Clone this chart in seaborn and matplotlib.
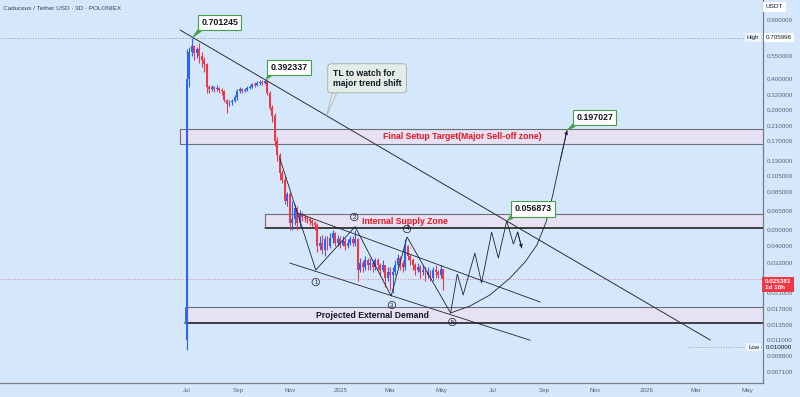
import matplotlib
matplotlib.use("Agg")
import matplotlib.pyplot as plt
import matplotlib.transforms as mtransforms
import matplotlib.dates as mdates
from matplotlib.ticker import NullLocator
import numpy as np
import pandas as pd
import seaborn as sns

# ---------------- data ----------------
candle_start = "2024-07-01"
candle_days = 3
first_open = 0.011
closes = [0.40, 0.58, 0.63, 0.57, 0.60, 0.55, 0.52, 0.49, 0.36, 0.35,
          0.36, 0.35, 0.355, 0.345, 0.34, 0.30, 0.285, 0.29, 0.295, 0.31,
          0.34, 0.35, 0.34, 0.345, 0.355, 0.36, 0.375, 0.37, 0.38, 0.385,
          0.38, 0.39, 0.33, 0.27, 0.24, 0.17, 0.14, 0.11, 0.10, 0.075,
          0.082, 0.055, 0.058, 0.068, 0.055, 0.062, 0.060, 0.059, 0.058, 0.057,
          0.055, 0.054, 0.040, 0.042, 0.038, 0.044, 0.040, 0.045, 0.048, 0.042,
          0.044, 0.041, 0.043, 0.040, 0.042, 0.044, 0.042, 0.044, 0.029, 0.032,
          0.030, 0.033, 0.031, 0.032, 0.030, 0.033, 0.031, 0.029, 0.031, 0.026,
          0.028, 0.027, 0.028, 0.031, 0.034, 0.032, 0.030, 0.040, 0.035, 0.033,
          0.031, 0.029, 0.030, 0.028, 0.029, 0.027, 0.028, 0.026, 0.029, 0.028,
          0.027, 0.0295, 0.025381]
highs = [0.60, 0.62, 0.701245, 0.64, 0.62, 0.66, 0.58, 0.54, 0.50, 0.37,
         0.37, 0.365, 0.37, 0.36, 0.355, 0.345, 0.305, 0.30, 0.305, 0.32,
         0.35, 0.36, 0.355, 0.355, 0.365, 0.37, 0.38, 0.385, 0.39, 0.392,
         0.392, 0.392337, 0.39, 0.34, 0.28, 0.25, 0.18, 0.145, 0.115, 0.105,
         0.085, 0.085, 0.075, 0.072, 0.070, 0.066, 0.064, 0.062, 0.061, 0.060,
         0.058, 0.057, 0.055, 0.046, 0.047, 0.046, 0.046, 0.048, 0.050, 0.049,
         0.047, 0.046, 0.046, 0.045, 0.044, 0.046, 0.046, 0.050, 0.045, 0.034,
         0.033, 0.035, 0.034, 0.034, 0.033, 0.034, 0.034, 0.032, 0.033, 0.031,
         0.030, 0.030, 0.030, 0.033, 0.036, 0.035, 0.033, 0.044, 0.041, 0.036,
         0.034, 0.032, 0.032, 0.031, 0.031, 0.030, 0.030, 0.029, 0.030, 0.031,
         0.029, 0.031, 0.0295]
lows = [0.0096, 0.36, 0.55, 0.52, 0.53, 0.50, 0.47, 0.44, 0.33, 0.33,
        0.34, 0.335, 0.34, 0.33, 0.32, 0.29, 0.25, 0.275, 0.28, 0.29,
        0.30, 0.33, 0.33, 0.335, 0.34, 0.35, 0.355, 0.36, 0.365, 0.37,
        0.37, 0.375, 0.32, 0.26, 0.22, 0.16, 0.13, 0.10, 0.095, 0.072,
        0.070, 0.050, 0.050, 0.054, 0.050, 0.052, 0.057, 0.056, 0.055, 0.054,
        0.052, 0.050, 0.037, 0.038, 0.036, 0.035, 0.038, 0.039, 0.042, 0.040,
        0.040, 0.039, 0.040, 0.038, 0.039, 0.041, 0.040, 0.040, 0.025, 0.028,
        0.028, 0.029, 0.029, 0.029, 0.028, 0.029, 0.029, 0.027, 0.028, 0.023,
        0.025, 0.022, 0.021, 0.027, 0.030, 0.029, 0.028, 0.029, 0.033, 0.031,
        0.029, 0.027, 0.028, 0.026, 0.027, 0.025, 0.026, 0.025, 0.025, 0.026,
        0.026, 0.026, 0.022]

high_price = 0.705996
low_price = 0.010000
last_price = 0.025381
last_price_label = "0.025381\n1d 18h"

y_ticks = [0.9, 0.55, 0.4, 0.32, 0.26, 0.21, 0.17, 0.13, 0.105, 0.085, 0.065,
           0.05, 0.04, 0.032, 0.021, 0.017, 0.0135, 0.011, 0.0088, 0.0071]
x_tick_dates = ["2024-07-01", "2024-09-01", "2024-11-01", "2025-01-01", "2025-03-01",
                "2025-05-01", "2025-07-01", "2025-09-01", "2025-11-01", "2026-01-01",
                "2026-03-01", "2026-05-01"]
x_tick_labels = ["Jul", "Sep", "Nov", "2025", "Mar", "May", "Jul", "Sep", "Nov",
                 "2026", "Mar", "May"]
x_range = ["2023-11-21", "2026-05-20"]
y_range = [0.006108, 1.185]

zone_names = ["Final Setup Target(Major Sell-off zone)", "Internal Supply Zone",
              "Projected External Demand"]
zone_low = [0.1635, 0.0515, 0.0139]
zone_high = [0.2009, 0.0624, 0.0174]
zone_start = ["2024-06-23", "2024-10-02", "2024-06-29"]
zone_text_date = ["2025-05-26", "2025-03-18", "2025-02-08"]
zone_text_color = ["#e8141e", "#e8141e", "#131722"]

trend_dates = ["2024-06-23", "2026-03-18"]
trend_prices = [0.784, 0.01103]
upper_ch_dates = ["2024-11-10", "2025-08-27"]
upper_ch_prices = [0.0633, 0.0186]
lower_ch_dates = ["2024-11-01", "2025-08-15"]
lower_ch_prices = [0.0318, 0.0110]

wave_dates = ["2024-10-20", "2024-12-02", "2025-01-18", "2025-03-02", "2025-03-21", "2025-05-12"]
wave_prices = [0.1348, 0.02889, 0.0525, 0.0202, 0.0455, 0.0160]
wave_labels = ["1", "2", "3", "4", "5"]
wave_label_dates = ["2024-12-02", "2025-01-17", "2025-03-03", "2025-03-21", "2025-05-14"]
wave_label_prices = [0.02449, 0.0599, 0.01785, 0.0508, 0.01413]

zig_dates = ["2025-05-12", "2025-05-20", "2025-05-27", "2025-06-10", "2025-06-18",
             "2025-06-30", "2025-07-08", "2025-07-18", "2025-07-26", "2025-07-31", "2025-08-05"]
zig_prices = [0.0160, 0.0273, 0.0205, 0.0365, 0.0242, 0.0487, 0.0341, 0.056873,
              0.0413, 0.0487, 0.0391]
arc_dates = ["2025-05-12", "2025-06-04", "2025-06-28", "2025-07-22", "2025-08-09",
             "2025-08-23", "2025-09-03", "2025-09-11", "2025-09-20", "2025-09-28"]
arc_prices = [0.0160, 0.0176, 0.0205, 0.0259, 0.0323, 0.0407, 0.0559, 0.0811,
              0.131, 0.197027]

callout_dates = ["2024-07-07", "2024-10-03", "2025-07-18", "2025-09-28"]
callout_prices = [0.701245, 0.392337, 0.056873, 0.197027]
callout_texts = ["0.701245", "0.392337", "0.056873", "0.197027"]
tl_note_date = "2024-12-15"
tl_note_price = 0.241
tl_note_text = "TL to watch for\nmajor trend shift"
title_text = "Caduceus / Tether USD · 3D · POLONIEX"

# ---------------- style ----------------
BG = "#d5e8fb"
UP = "#2962ff"
DOWN = "#f23645"
LINE = "#1e222d"
sns.set_theme(style="white")
plt.rcParams['font.family'] = ['Liberation Sans', 'DejaVu Sans']

fig = plt.figure(figsize=(8, 3.97), dpi=100, facecolor=BG)
ax = fig.add_axes([0, 14 / 397, 763 / 800, 383 / 397])
ax.set_facecolor(BG)
ax.set_yscale("log")

d2n = lambda seq: mdates.date2num(pd.to_datetime(seq))

# candles
n = len(closes)
cx = d2n(pd.date_range(candle_start, periods=n, freq=f"{candle_days}D"))
opens = [first_open] + closes[:-1]
df = pd.DataFrame({"x": cx, "open": opens, "close": closes, "high": highs, "low": lows})
df["up"] = df["close"] >= df["open"]
colors = np.where(df["up"], UP, DOWN)
ax.vlines(df["x"], df["low"], df["high"], colors=colors, linewidth=0.8, zorder=3)
bottoms = np.minimum(df["open"], df["close"])
heights = np.abs(df["close"] - df["open"])
ax.bar(df["x"], heights, bottom=bottoms, width=2.3, color=colors, linewidth=0, zorder=3)

ax.set_xlim(d2n(x_range))
ax.set_ylim(y_range)
xr = ax.get_xlim()[1]

# zones
for name, lo, hi, st, td, tc in zip(zone_names, zone_low, zone_high, zone_start,
                                    zone_text_date, zone_text_color):
    s = d2n([st])[0]
    ax.fill_between([s, xr], lo, hi, color="#e7e2f3", zorder=1, linewidth=0)
    ax.plot([s, xr], [hi, hi], color="#6b6f7a", lw=0.8, zorder=2)
    if name == zone_names[0]:
        ax.plot([s, xr], [lo, lo], color="#6b6f7a", lw=0.8, zorder=2)
    else:
        ax.plot([s, xr], [lo, lo], color="#111111", lw=1.1, zorder=2)
    ax.plot([s, s], [lo, hi], color="#6b6f7a", lw=0.8, zorder=2)
    ax.text(d2n([td])[0], np.sqrt(lo * hi), name, color=tc, fontsize=6.2,
            fontweight="bold", ha="center", va="center", zorder=6)

# horizontal reference lines
ax.axhline(high_price, color="#7b7f8a", lw=0.6, ls=(0, (1, 2)), zorder=2)
ax.axhline(last_price, color="#e06a82", lw=0.6, ls=(0, (1, 2)), zorder=2)
ax.plot([d2n(["2026-02-20"])[0], xr], [low_price, low_price], color="#7b7f8a",
        lw=0.6, ls=(0, (1, 2)), zorder=2)

# trend lines and projections via seaborn
def sline(dates, prices, lw=0.7, color=LINE):
    sns.lineplot(x=d2n(dates), y=prices, sort=False, estimator=None, ax=ax,
                 color=color, linewidth=lw, zorder=4)

sline(trend_dates, trend_prices, lw=0.7, color="#2a2e39")
sline(upper_ch_dates, upper_ch_prices, lw=0.6)
sline(lower_ch_dates, lower_ch_prices, lw=0.6)
sline(wave_dates, wave_prices, lw=0.6)
sline(zig_dates, zig_prices, lw=0.6)
sline(arc_dates, arc_prices, lw=0.6)
for dts, prs in [(zig_dates, zig_prices), (arc_dates, arc_prices)]:
    xs = d2n(dts[-2:])
    ax.annotate("", xy=(xs[1], prs[-1]), xytext=(xs[0], prs[-2]),
                arrowprops=dict(arrowstyle="-|>", color=LINE, lw=0.6,
                                mutation_scale=5, shrinkA=0, shrinkB=0), zorder=4)

# wave count labels
for lab, d, p in zip(wave_labels, wave_label_dates, wave_label_prices):
    ax.text(d2n([d])[0], p, lab, fontsize=4.3, color="#131722", ha="center", va="center",
            bbox=dict(boxstyle="circle,pad=0.2", fc="none", ec="#131722", lw=0.5), zorder=6)

# price callouts
offsets = [(20, 11.5), (17, 9.5), (19, 8.5), (20, 9.5)]
for d, p, t, off in zip(callout_dates, callout_prices, callout_texts, offsets):
    ax.annotate(t, xy=(d2n([d])[0], p), xytext=off, textcoords="offset points",
                ha="center", va="center", fontsize=6.4, fontweight="bold", color="#131722",
                bbox=dict(boxstyle="square,pad=0.35", fc="white", ec="#43a047", lw=0.8),
                arrowprops=dict(arrowstyle="wedge,tail_width=0.45,shrink_factor=0.5",
                                fc="#43a047", ec="#43a047", lw=0.3, shrinkA=0, shrinkB=0,
                                relpos=(0.06, 0.0)), zorder=7)

ax.annotate(tl_note_text, xy=(d2n([tl_note_date])[0], tl_note_price), xytext=(4.5, 27),
            textcoords="offset points", ha="left", va="center", fontsize=6.2,
            fontweight="bold", color="#131722", linespacing=1.1,
            bbox=dict(boxstyle="round,pad=0.6,rounding_size=0.4", fc="#e3ece6", ec="#a4aca8", lw=0.6),
            arrowprops=dict(arrowstyle="wedge,tail_width=0.5,shrink_factor=0.5",
                            fc="#e3ece6", ec="#a4aca8", lw=0.5, shrinkA=0, shrinkB=0,
                            relpos=(0.05, 0.0)), zorder=7)

# title
ax.text(0.004, 0.979, title_text, transform=ax.transAxes, fontsize=4.6, color="#3c3f48",
        ha="left", va="center", zorder=8)

# axes styling
for s in ["top", "left"]:
    ax.spines[s].set_visible(False)
for s in ["right", "bottom"]:
    ax.spines[s].set_color("#787b86")
    ax.spines[s].set_linewidth(0.9)
ax.grid(False)
ax.yaxis.tick_right()
ax.set_yticks(y_ticks)
ax.set_yticklabels([f"{t:.6f}" for t in y_ticks])
ax.yaxis.set_minor_locator(NullLocator())
ax.tick_params(axis="y", length=0, pad=2.5, labelsize=4.5, labelcolor="#5d606b")
ax.set_xticks(d2n(x_tick_dates))
ax.set_xticklabels(x_tick_labels)
ax.tick_params(axis="x", length=0, pad=3.5, labelsize=4.5, labelcolor="#5d606b")
ax.set_xlabel("")
ax.set_ylabel("")

trans = mtransforms.blended_transform_factory(ax.transAxes, ax.transData)
ax.text(1.004, high_price, "0.705996", transform=trans, fontsize=4.5, color="#131722",
        ha="left", va="center", clip_on=False, zorder=9,
        bbox=dict(boxstyle="square,pad=0.3", fc="white", ec="none"))
ax.text(0.995, high_price, "High", transform=trans, fontsize=4.3, color="#131722",
        ha="right", va="center", clip_on=False, zorder=9,
        bbox=dict(boxstyle="square,pad=0.3", fc="#eef4fb", ec="none"))
ax.text(1.004, low_price, "0.010000", transform=trans, fontsize=4.5, color="#131722",
        ha="left", va="center", clip_on=False, zorder=9,
        bbox=dict(boxstyle="square,pad=0.3", fc=BG, ec="none"))
ax.text(0.995, low_price, "Low", transform=trans, fontsize=4.3, color="#131722",
        ha="right", va="center", clip_on=False, zorder=9,
        bbox=dict(boxstyle="square,pad=0.3", fc="#eef4fb", ec="none"))
ax.text(1.0025, last_price, last_price_label, transform=trans, fontsize=4.5, color="white",
        fontweight="bold", ha="left", va="top", linespacing=1.1, clip_on=False, zorder=10,
        bbox=dict(boxstyle="square,pad=0.4", fc=DOWN, ec="none"))
fig.text(766 / 800, 1 - 7 / 397, "USDT", fontsize=4.6, color="#131722", ha="left",
         va="center", bbox=dict(boxstyle="square,pad=0.4", fc="white", ec="none"))

fig.savefig("out.png", dpi=100, facecolor=BG)
